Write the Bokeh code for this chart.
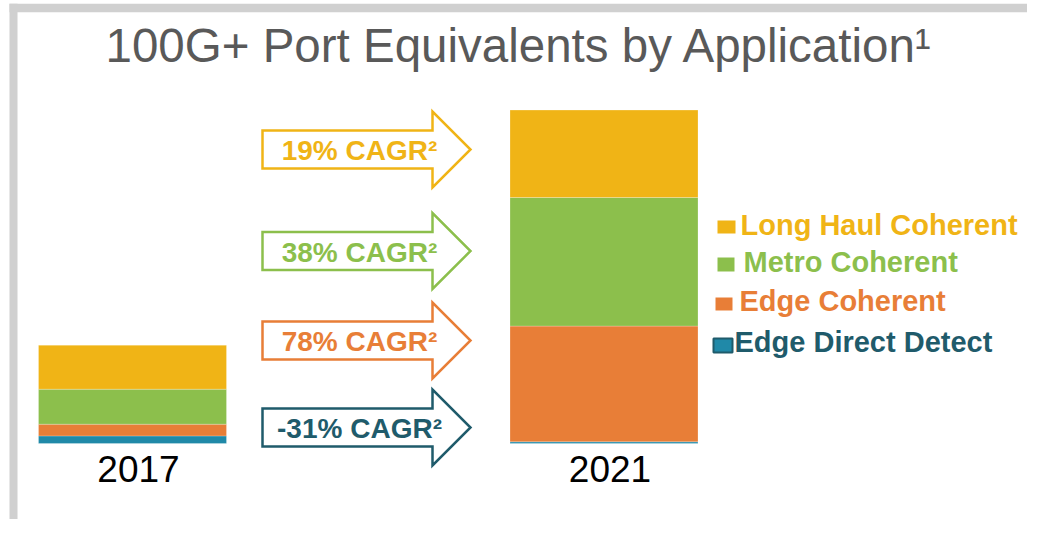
from bokeh.plotting import figure
from bokeh.models import Range1d, ColumnDataSource
from bokeh.core.properties import value
from bokeh.embed import file_html
from bokeh.resources import INLINE

# ---------------- data ----------------
years = [2017, 2021]
year_labels = ["2017", "2021"]
series = ["Edge Direct Detect", "Edge Coherent", "Metro Coherent", "Long Haul Coherent"]  # bottom -> top
edge_direct = [7.6, 1.7]
edge_coherent = [11.7, 115.7]
metro_coherent = [35.0, 128.6]
long_haul = [44.0, 87.4]
cagr_labels = ["-31% CAGR\u00b2", "78% CAGR\u00b2", "38% CAGR\u00b2", "19% CAGR\u00b2"]
title_text = "100G+ Port Equivalents by Application\u00b9"

bar_colors = ["#2089A8", "#E87E37", "#8CBF4C", "#F0B416"]
text_colors = ["#1F5B6B", "#E87E37", "#8CBF4C", "#F0B416"]
FONT = "Liberation Sans"

# ---------------- layout (screen pixels) ----------------
W, H = 1027, 519
X0, Y0 = 0, 0
BASE_Y = 443
X_FIRST, X_LAST = 132, 603.5
BAR_PX = 188
BL = -0.38  # baseline correction (em)

ppy = (X_LAST - X_FIRST) / (years[1] - years[0])
yr_range = Range1d(years[0] - (X_FIRST - X0) / ppy, years[0] + (X0 + W - X_FIRST) / ppy)
val_range = Range1d(-(Y0 + H - BASE_Y), BASE_Y - Y0)

p = figure(width=W, height=H, output_backend="svg", toolbar_location=None,
           x_range=Range1d(X0, X0 + W), y_range=Range1d(Y0 + H, Y0),
           x_axis_type=None, y_axis_type=None, min_border=0,
           background_fill_color="white", border_fill_color="white")
p.outline_line_color = None
p.grid.visible = False
p.extra_x_ranges = {"yr": yr_range}
p.extra_y_ranges = {"val": val_range}

# frame border
border = "#D0D0D0"
p.quad(left=[9, 9, 9], right=[17, 1043, 1043], top=[3.3, 3.3, 532], bottom=[535, 11.7, 540],
       fill_color=border, line_color=None)

# title
p.text(x=[105], y=[63], text=[title_text], text_font=value(FONT), text_font_size="47.5px",
       y_offset=BL * 47.5,
       text_color="#595959", text_align="left", text_baseline="alphabetic")

# stacked bars
src = ColumnDataSource(dict(year=years, **{
    series[0]: edge_direct, series[1]: edge_coherent,
    series[2]: metro_coherent, series[3]: long_haul}))
p.vbar_stack(series, x="year", width=BAR_PX / ppy, source=src, color=bar_colors,
             line_color="white", line_alpha=0.4, line_width=0.6,
             x_range_name="yr", y_range_name="val")

# year labels
p.text(x=years, y=[483, 483], text=year_labels, x_range_name="yr", x_offset=6,
       y_offset=BL * 37,
       text_font=value(FONT), text_font_size="37px", text_color="black",
       text_align="center", text_baseline="alphabetic")

# CAGR arrows
arrow_cy = [427, 340, 250.5, 149]
BODY_L, HEAD_X, TIP_X = 262, 432, 470
BODY_H, HEAD_H = 19, 38
xs, ys = [], []
for cy in arrow_cy:
    xs.append([BODY_L, HEAD_X, HEAD_X, TIP_X, HEAD_X, HEAD_X, BODY_L])
    ys.append([cy - BODY_H, cy - BODY_H, cy - HEAD_H, cy, cy + HEAD_H, cy + BODY_H, cy + BODY_H])
p.patches(xs, ys, fill_color="white", line_color=text_colors, line_width=2.5, line_join="miter")
p.text(x=[359] * 4, y=[cy + 12 for cy in arrow_cy], text=cagr_labels, y_offset=BL * 28,
       text_color=text_colors, text_font=value(FONT), text_font_size="28px",
       text_font_style="bold", text_align="center", text_baseline="alphabetic")

# legend (top -> bottom)
leg_names = series[::-1]
leg_colors = text_colors[::-1]
leg_fill = bar_colors[::-1]
leg_base = [236, 273, 311.7, 353]
leg_x = [740, 743, 739, 734]
sq_l = [717, 717, 715, 713]
sq_r = [735, 734, 732, 732]
sq_t = [220, 257, 297, 338]
sq_b = [233, 271, 310, 352]
p.quad(left=sq_l, right=sq_r, top=sq_t, bottom=sq_b, fill_color=leg_fill,
       line_color=["#F0B416", "#8CBF4C", "#E87E37", "#1F5B6B"], line_width=[0, 0, 0, 2])
p.text(x=leg_x, y=leg_base, text=leg_names, text_color=leg_colors, y_offset=BL * 29,
       text_font=value(FONT), text_font_size="29px", text_font_style="bold",
       text_align="left", text_baseline="alphabetic")

open("out.html", "w").write(file_html(p, INLINE))
